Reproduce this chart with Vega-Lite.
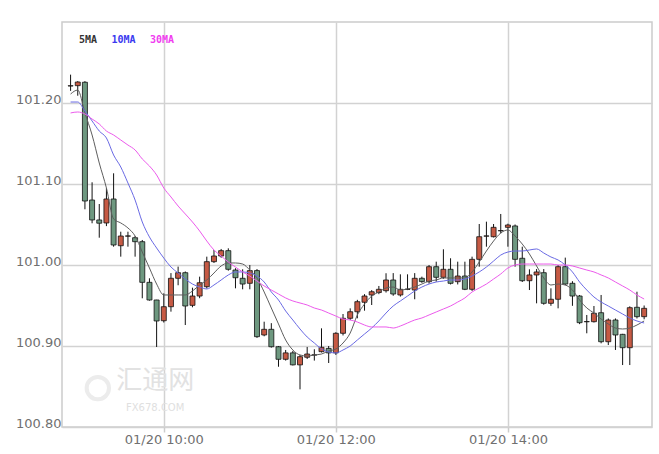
{
"$schema": "https://vega.github.io/schema/vega-lite/v6.json",
"width": 590, "height": 405,
"autosize": {"type": "none"},
"padding": {"left": 62, "top": 22, "right": 7, "bottom": 27},
"background": "white",
"config": {"view": {"stroke": "#cccccc", "strokeWidth": 1.5}, "font": "DejaVu Sans"},
"data": {"values": [
{"t":"2017-01-20T08:55","o":101.221,"h":101.235,"l":101.215,"c":101.2213,"5MA":101.2111,"10MA":101.2012,"30MA":101.1877},
{"t":"2017-01-20T09:00","o":101.2214,"h":101.227,"l":101.209,"c":101.2259,"5MA":101.2160,"10MA":101.2012,"30MA":101.1889},
{"t":"2017-01-20T09:05","o":101.2256,"h":101.227,"l":101.0688,"c":101.0790,"5MA":101.1877,"10MA":101.1901,"30MA":101.1864},
{"t":"2017-01-20T09:10","o":101.0802,"h":101.1021,"l":101.0515,"c":101.0556,"5MA":101.1605,"10MA":101.1778,"30MA":101.1802},
{"t":"2017-01-20T09:15","o":101.0556,"h":101.0753,"l":101.0337,"c":101.0516,"5MA":101.1259,"10MA":101.1654,"30MA":101.1741},
{"t":"2017-01-20T09:20","o":101.0519,"h":101.0950,"l":101.0480,"c":101.0815,"5MA":101.0951,"10MA":101.1568,"30MA":101.1654},
{"t":"2017-01-20T09:25","o":101.0815,"h":101.1132,"l":101.0226,"c":101.0247,"5MA":101.0568,"10MA":101.1358,"30MA":101.1605},
{"t":"2017-01-20T09:30","o":101.0238,"h":101.0411,"l":101.0103,"c":101.0358,"5MA":101.0519,"10MA":101.1210,"30MA":101.1543},
{"t":"2017-01-20T09:35","o":101.0356,"h":101.0411,"l":101.0226,"c":101.0359,"5MA":101.0457,"10MA":101.1012,"30MA":101.1481},
{"t":"2017-01-20T09:40","o":101.0337,"h":101.0358,"l":101.0103,"c":101.0288,"5MA":101.0358,"10MA":101.0802,"30MA":101.1420},
{"t":"2017-01-20T09:45","o":101.0288,"h":101.0309,"l":100.9589,"c":100.9786,"5MA":101.0160,"10MA":101.0531,"30MA":101.1309},
{"t":"2017-01-20T09:50","o":100.9786,"h":100.9836,"l":100.9560,"c":100.9568,"5MA":100.9963,"10MA":101.0346,"30MA":101.1222},
{"t":"2017-01-20T09:55","o":100.9568,"h":100.9570,"l":100.8988,"c":100.9309,"5MA":100.9765,"10MA":101.0210,"30MA":101.1111},
{"t":"2017-01-20T10:00","o":100.9312,"h":100.9650,"l":100.9290,"c":100.9485,"5MA":100.9630,"10MA":101.0086,"30MA":101.0951},
{"t":"2017-01-20T10:05","o":100.9485,"h":100.9900,"l":100.9424,"c":100.9836,"5MA":100.9630,"10MA":100.9975,"30MA":101.0840},
{"t":"2017-01-20T10:10","o":100.9836,"h":100.9980,"l":100.9750,"c":100.9905,"5MA":100.9630,"10MA":100.9901,"30MA":101.0728},
{"t":"2017-01-20T10:15","o":100.9905,"h":100.9920,"l":100.9259,"c":100.9494,"5MA":100.9630,"10MA":100.9827,"30MA":101.0630},
{"t":"2017-01-20T10:20","o":100.9502,"h":100.9720,"l":100.9478,"c":100.9617,"5MA":100.9679,"10MA":100.9765,"30MA":101.0531},
{"t":"2017-01-20T10:25","o":100.9617,"h":100.9856,"l":100.9590,"c":100.9781,"5MA":100.9753,"10MA":100.9728,"30MA":101.0420},
{"t":"2017-01-20T10:30","o":100.9732,"h":101.0103,"l":100.9710,"c":101.0041,"5MA":100.9815,"10MA":100.9704,"30MA":101.0296},
{"t":"2017-01-20T10:35","o":101.0041,"h":101.0185,"l":101.0025,"c":101.0111,"5MA":100.9901,"10MA":100.9753,"30MA":101.0185},
{"t":"2017-01-20T10:40","o":101.0111,"h":101.0198,"l":101.0090,"c":101.0177,"5MA":100.9988,"10MA":100.9815,"30MA":101.0111},
{"t":"2017-01-20T10:45","o":101.0177,"h":101.0206,"l":100.9930,"c":100.9947,"5MA":101.0025,"10MA":100.9877,"30MA":101.0037},
{"t":"2017-01-20T10:50","o":100.9938,"h":100.9960,"l":100.9712,"c":100.9843,"5MA":101.0025,"10MA":100.9914,"30MA":100.9975},
{"t":"2017-01-20T10:55","o":100.9836,"h":100.9947,"l":100.9700,"c":100.9765,"5MA":101.0012,"10MA":100.9914,"30MA":100.9914},
{"t":"2017-01-20T11:00","o":100.9774,"h":101.0000,"l":100.9700,"c":100.9931,"5MA":100.9938,"10MA":100.9901,"30MA":100.9864},
{"t":"2017-01-20T11:05","o":100.9931,"h":100.9950,"l":100.9100,"c":100.9115,"5MA":100.9840,"10MA":100.9864,"30MA":100.9802},
{"t":"2017-01-20T11:10","o":100.9136,"h":100.9300,"l":100.9120,"c":100.9206,"5MA":100.9667,"10MA":100.9790,"30MA":100.9741},
{"t":"2017-01-20T11:15","o":100.9206,"h":100.9282,"l":100.8980,"c":100.8991,"5MA":100.9469,"10MA":100.9667,"30MA":100.9691},
{"t":"2017-01-20T11:20","o":100.8991,"h":100.9000,"l":100.8744,"c":100.8836,"5MA":100.9272,"10MA":100.9568,"30MA":100.9642},
{"t":"2017-01-20T11:25","o":100.8836,"h":100.8951,"l":100.8820,"c":100.8915,"5MA":100.9074,"10MA":100.9432,"30MA":100.9593},
{"t":"2017-01-20T11:30","o":100.8915,"h":100.8940,"l":100.8760,"c":100.8767,"5MA":100.8951,"10MA":100.9321,"30MA":100.9556},
{"t":"2017-01-20T11:35","o":100.8767,"h":100.8890,"l":100.8465,"c":100.8868,"5MA":100.8889,"10MA":100.9210,"30MA":100.9531},
{"t":"2017-01-20T11:40","o":100.8861,"h":100.8988,"l":100.8840,"c":100.8901,"5MA":100.8877,"10MA":100.9111,"30MA":100.9506},
{"t":"2017-01-20T11:45","o":100.8888,"h":100.8960,"l":100.8820,"c":100.8891,"5MA":100.8889,"10MA":100.9037,"30MA":100.9469},
{"t":"2017-01-20T11:50","o":100.8930,"h":100.9218,"l":100.8920,"c":100.8984,"5MA":100.8901,"10MA":100.8963,"30MA":100.9444},
{"t":"2017-01-20T11:55","o":100.8970,"h":100.9000,"l":100.8790,"c":100.8915,"5MA":100.8938,"10MA":100.8926,"30MA":100.9407},
{"t":"2017-01-20T12:00","o":100.8915,"h":100.9170,"l":100.8890,"c":100.9157,"5MA":100.8963,"10MA":100.8914,"30MA":100.9370},
{"t":"2017-01-20T12:05","o":100.9157,"h":100.9395,"l":100.9130,"c":100.9342,"5MA":100.9037,"10MA":100.8951,"30MA":100.9333},
{"t":"2017-01-20T12:10","o":100.9342,"h":100.9465,"l":100.9320,"c":100.9423,"5MA":100.9160,"10MA":100.9000,"30MA":100.9321},
{"t":"2017-01-20T12:15","o":100.9423,"h":100.9570,"l":100.9342,"c":100.9547,"5MA":100.9383,"10MA":100.9074,"30MA":100.9296},
{"t":"2017-01-20T12:20","o":100.9540,"h":100.9640,"l":100.9436,"c":100.9617,"5MA":100.9518,"10MA":100.9148,"30MA":100.9259},
{"t":"2017-01-20T12:25","o":100.9630,"h":100.9690,"l":100.9506,"c":100.9670,"5MA":100.9617,"10MA":100.9222,"30MA":100.9235},
{"t":"2017-01-20T12:30","o":100.9660,"h":100.9741,"l":100.9640,"c":100.9700,"5MA":100.9667,"10MA":100.9309,"30MA":100.9235},
{"t":"2017-01-20T12:35","o":100.9683,"h":100.9898,"l":100.9660,"c":100.9815,"5MA":100.9716,"10MA":100.9407,"30MA":100.9235},
{"t":"2017-01-20T12:40","o":100.9815,"h":100.9900,"l":100.9620,"c":100.9642,"5MA":100.9728,"10MA":100.9494,"30MA":100.9222},
{"t":"2017-01-20T12:45","o":100.9630,"h":100.9885,"l":100.9610,"c":100.9700,"5MA":100.9691,"10MA":100.9556,"30MA":100.9247},
{"t":"2017-01-20T12:50","o":100.9699,"h":100.9885,"l":100.9690,"c":100.9702,"5MA":100.9704,"10MA":100.9617,"30MA":100.9284},
{"t":"2017-01-20T12:55","o":100.9691,"h":100.9900,"l":100.9577,"c":100.9836,"5MA":100.9728,"10MA":100.9679,"30MA":100.9321},
{"t":"2017-01-20T13:00","o":100.9836,"h":100.9856,"l":100.9780,"c":100.9795,"5MA":100.9765,"10MA":100.9728,"30MA":100.9346},
{"t":"2017-01-20T13:05","o":100.9794,"h":101.0000,"l":100.9770,"c":100.9979,"5MA":100.9802,"10MA":100.9765,"30MA":100.9383},
{"t":"2017-01-20T13:10","o":100.9979,"h":101.0041,"l":100.9794,"c":100.9848,"5MA":100.9815,"10MA":100.9790,"30MA":100.9420},
{"t":"2017-01-20T13:15","o":100.9848,"h":101.0194,"l":100.9830,"c":100.9947,"5MA":100.9840,"10MA":100.9802,"30MA":100.9457},
{"t":"2017-01-20T13:20","o":100.9947,"h":101.0083,"l":100.9760,"c":100.9774,"5MA":100.9840,"10MA":100.9815,"30MA":100.9494},
{"t":"2017-01-20T13:25","o":100.9794,"h":101.0041,"l":100.9760,"c":100.9864,"5MA":100.9840,"10MA":100.9815,"30MA":100.9543},
{"t":"2017-01-20T13:30","o":100.9864,"h":101.0041,"l":100.9690,"c":100.9700,"5MA":100.9840,"10MA":100.9827,"30MA":100.9593},
{"t":"2017-01-20T13:35","o":100.9700,"h":101.0103,"l":100.9680,"c":101.0070,"5MA":100.9914,"10MA":100.9864,"30MA":100.9667},
{"t":"2017-01-20T13:40","o":101.0070,"h":101.0506,"l":100.9979,"c":101.0349,"5MA":101.0037,"10MA":100.9914,"30MA":100.9716},
{"t":"2017-01-20T13:45","o":101.0356,"h":101.0535,"l":101.0226,"c":101.0359,"5MA":101.0173,"10MA":100.9975,"30MA":100.9765},
{"t":"2017-01-20T13:50","o":101.0349,"h":101.0506,"l":101.0340,"c":101.0465,"5MA":101.0296,"10MA":101.0049,"30MA":100.9827},
{"t":"2017-01-20T13:55","o":101.0422,"h":101.0630,"l":101.0390,"c":101.0425,"5MA":101.0395,"10MA":101.0123,"30MA":100.9889},
{"t":"2017-01-20T14:00","o":101.0465,"h":101.0510,"l":101.0226,"c":101.0494,"5MA":101.0432,"10MA":101.0160,"30MA":100.9963},
{"t":"2017-01-20T14:05","o":101.0482,"h":101.0500,"l":100.9979,"c":101.0070,"5MA":101.0358,"10MA":101.0173,"30MA":101.0000},
{"t":"2017-01-20T14:10","o":101.0083,"h":101.0226,"l":100.9790,"c":100.9806,"5MA":101.0259,"10MA":101.0173,"30MA":101.0012},
{"t":"2017-01-20T14:15","o":100.9806,"h":100.9947,"l":100.9691,"c":100.9877,"5MA":101.0136,"10MA":101.0185,"30MA":101.0012},
{"t":"2017-01-20T14:20","o":100.9877,"h":100.9950,"l":100.9527,"c":100.9914,"5MA":100.9988,"10MA":101.0198,"30MA":101.0012},
{"t":"2017-01-20T14:25","o":100.9905,"h":100.9950,"l":100.9510,"c":100.9527,"5MA":100.9840,"10MA":101.0148,"30MA":101.0012},
{"t":"2017-01-20T14:30","o":100.9527,"h":100.9712,"l":100.9496,"c":100.9577,"5MA":100.9753,"10MA":101.0099,"30MA":101.0012},
{"t":"2017-01-20T14:35","o":100.9577,"h":101.0000,"l":100.9465,"c":100.9979,"5MA":100.9765,"10MA":101.0062,"30MA":101.0000},
{"t":"2017-01-20T14:40","o":100.9979,"h":101.0091,"l":100.9750,"c":100.9765,"5MA":100.9753,"10MA":101.0000,"30MA":101.0000},
{"t":"2017-01-20T14:45","o":100.9774,"h":100.9800,"l":100.9496,"c":100.9617,"5MA":100.9691,"10MA":100.9914,"30MA":100.9988},
{"t":"2017-01-20T14:50","o":100.9617,"h":100.9630,"l":100.9270,"c":100.9288,"5MA":100.9568,"10MA":100.9790,"30MA":100.9963},
{"t":"2017-01-20T14:55","o":100.9299,"h":100.9383,"l":100.9157,"c":100.9302,"5MA":100.9469,"10MA":100.9691,"30MA":100.9938},
{"t":"2017-01-20T15:00","o":100.9300,"h":100.9494,"l":100.9290,"c":100.9404,"5MA":100.9407,"10MA":100.9605,"30MA":100.9914},
{"t":"2017-01-20T15:05","o":100.9411,"h":100.9630,"l":100.9033,"c":100.9053,"5MA":100.9333,"10MA":100.9543,"30MA":100.9877},
{"t":"2017-01-20T15:10","o":100.9053,"h":100.9340,"l":100.9012,"c":100.9321,"5MA":100.9272,"10MA":100.9494,"30MA":100.9840},
{"t":"2017-01-20T15:15","o":100.9321,"h":100.9340,"l":100.8951,"c":100.9136,"5MA":100.9222,"10MA":100.9444,"30MA":100.9790},
{"t":"2017-01-20T15:20","o":100.9144,"h":100.9150,"l":100.8765,"c":100.8979,"5MA":100.9210,"10MA":100.9395,"30MA":100.9741},
{"t":"2017-01-20T15:25","o":100.8979,"h":100.9490,"l":100.8765,"c":100.9473,"5MA":100.9222,"10MA":100.9346,"30MA":100.9691},
{"t":"2017-01-20T15:30","o":100.9478,"h":100.9670,"l":100.9340,"c":100.9362,"5MA":100.9259,"10MA":100.9309,"30MA":100.9630},
{"t":"2017-01-20T15:35","o":100.9362,"h":100.9500,"l":100.9330,"c":100.9465,"5MA":100.9309,"10MA":100.9284,"30MA":100.9580}
]},
"encoding": {
  "x": {"field": "t", "type": "temporal",
    "scale": {"domain": [{"year": 2017, "month": 1, "date": 20, "hours": 8, "minutes": 52, "seconds": 30}, {"year": 2017, "month": 1, "date": 20, "hours": 15, "minutes": 37, "seconds": 0}]},
    "axis": {"values": [{"year": 2017, "month": 1, "date": 20, "hours": 10}, {"year": 2017, "month": 1, "date": 20, "hours": 12}, {"year": 2017, "month": 1, "date": 20, "hours": 14}],
      "format": "%m/%d %H:%M", "title": null, "domain": false, "labelFont": "DejaVu Sans", "labelFontSize": 13, "labelColor": "#707070",
      "tickColor": "#cccccc", "tickSize": 5, "tickWidth": 1.5, "labelPadding": 1, "grid": true, "gridColor": "#d2d2d2", "gridWidth": 1.5}
  }
},
"layer": [
  {"mark": {"type": "rule", "stroke": "#111111", "strokeWidth": 1},
   "encoding": {"y": {"field": "l", "type": "quantitative",
      "scale": {"domain": [100.8, 101.3], "zero": false, "nice": false},
      "axis": {"values": [100.8, 100.9, 101.0, 101.1, 101.2], "format": ".2f", "title": null, "domain": false, "ticks": false,
        "labelFont": "DejaVu Sans", "labelFontSize": 13, "labelColor": "#707070", "labelBaseline": "alphabetic", "labelPadding": 1,
        "grid": true, "gridColor": "#d2d2d2", "gridWidth": 1.5}},
     "y2": {"field": "h"}}},
  {"mark": {"type": "bar", "width": 5, "stroke": "#111111", "strokeWidth": 0.8},
   "encoding": {"y": {"field": "o", "type": "quantitative"}, "y2": {"field": "c"},
     "color": {"condition": {"test": "datum.o < datum.c", "value": "#c65a44"}, "value": "#6e9880"}}},
  {"transform": [{"fold": ["5MA", "10MA", "30MA"], "as": ["ma", "v"]}],
   "mark": {"type": "line", "strokeWidth": 1, "interpolate": "monotone"},
   "encoding": {"y": {"field": "v", "type": "quantitative"},
     "color": {"field": "ma", "type": "nominal",
       "scale": {"domain": ["5MA", "10MA", "30MA"], "range": ["#5e5e5e", "#6a6ae4", "#ec5aec"]},
       "legend": {"orient": "none", "legendX": 7, "legendY": 13, "direction": "horizontal", "title": null,
         "symbolSize": 0, "symbolStrokeWidth": 0, "symbolOpacity": 0, "labelOffset": 0, "columnPadding": 3.5,
         "labelFont": "DejaVu Sans Mono", "labelFontSize": 10, "labelFontWeight": "bold",
         "encode": {"labels": {"update": {"fill": {"signal": "datum.label == '5MA' ? '#333333' : datum.label == '10MA' ? '#3a3af0' : '#f03cf0'"}}}}}}}},
  {"data": {"values": [{"t": "2017-01-20T09:54", "p": 100.857}]},
   "mark": {"type": "text", "font": "Noto Sans CJK SC", "fontSize": 26, "color": "#e2e2e2", "align": "center", "baseline": "middle"},
   "encoding": {"y": {"field": "p", "type": "quantitative"}, "text": {"value": "汇通网"}}},
  {"data": {"values": [{"t": "2017-01-20T09:54", "p": 100.8235}]},
   "mark": {"type": "text", "font": "DejaVu Sans", "fontSize": 10, "color": "#e0e0e0", "align": "center", "baseline": "middle"},
   "encoding": {"y": {"field": "p", "type": "quantitative"}, "text": {"value": "FX678.COM"}}},
  {"data": {"values": [{"t": "2017-01-20T09:14", "p": 100.848}]},
   "mark": {"type": "point", "shape": "circle", "filled": false, "size": 500, "stroke": "#e4e4e4", "strokeWidth": 4},
   "encoding": {"y": {"field": "p", "type": "quantitative"}}}
]
}
